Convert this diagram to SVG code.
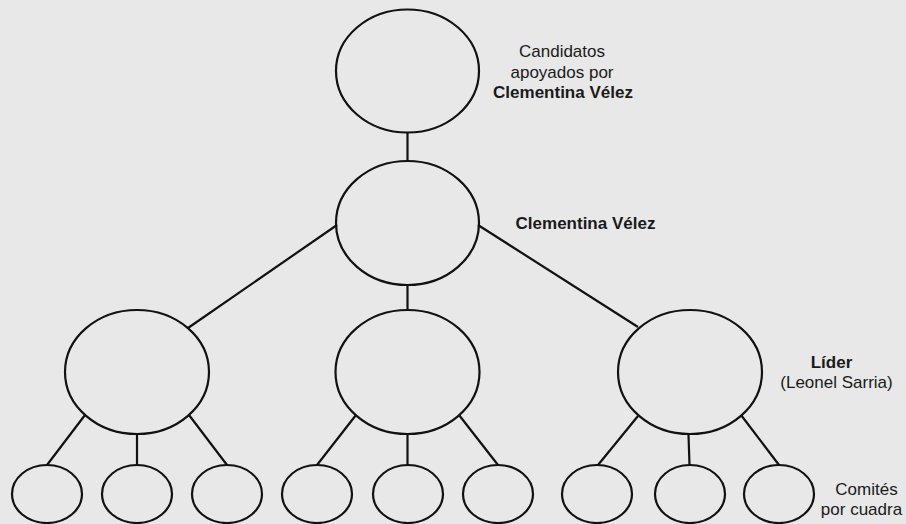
<svg xmlns="http://www.w3.org/2000/svg" width="906" height="524" viewBox="0 0 906 524">
<style>
.n{fill:none;stroke:#111;stroke-width:2.2}
.c line{stroke:#111;stroke-width:2.2}
text{font-family:"Liberation Sans",Arial,sans-serif;font-size:17px;fill:#1a1a1a;text-anchor:middle}
.b{font-weight:bold}
</style>
<rect width="906" height="524" fill="#e8e8e8"/>
<g class="c" id="connectors">
<line x1="407.5" y1="133" x2="407.5" y2="161"/>
<line x1="337" y1="225" x2="188" y2="328"/>
<line x1="407.5" y1="285" x2="407.5" y2="310"/>
<line x1="478" y1="225" x2="638" y2="327"/>
<line x1="85" y1="415" x2="47" y2="465"/>
<line x1="137" y1="434" x2="137" y2="465"/>
<line x1="189" y1="415" x2="227" y2="465"/>
<line x1="356" y1="415" x2="317" y2="465"/>
<line x1="407.5" y1="434" x2="407.5" y2="465"/>
<line x1="459" y1="415" x2="498" y2="465"/>
<line x1="638" y1="416" x2="598" y2="465"/>
<line x1="688.5" y1="435" x2="689.5" y2="465"/>
<line x1="741" y1="415" x2="779" y2="465"/>
</g>
<g id="n-top"><ellipse class="n" cx="407.5" cy="71" rx="71.5" ry="61.5"/></g>
<g id="n-cv"><ellipse class="n" cx="407.5" cy="223" rx="71.5" ry="62"/></g>
<g id="n-l1"><ellipse class="n" cx="137" cy="372" rx="72" ry="62"/></g>
<g id="n-l2"><ellipse class="n" cx="407.5" cy="372" rx="72" ry="62"/></g>
<g id="n-l3"><ellipse class="n" cx="690" cy="372" rx="72" ry="62"/></g>
<g id="n-c1"><ellipse class="n" cx="47" cy="494" rx="35" ry="29"/></g>
<g id="n-c2"><ellipse class="n" cx="137" cy="494" rx="35" ry="29"/></g>
<g id="n-c3"><ellipse class="n" cx="227" cy="494" rx="35" ry="29"/></g>
<g id="n-c4"><ellipse class="n" cx="317" cy="494" rx="35" ry="29"/></g>
<g id="n-c5"><ellipse class="n" cx="408" cy="494" rx="35" ry="29"/></g>
<g id="n-c6"><ellipse class="n" cx="498" cy="494" rx="35" ry="29"/></g>
<g id="n-c7"><ellipse class="n" cx="597" cy="494" rx="35" ry="29"/></g>
<g id="n-c8"><ellipse class="n" cx="690" cy="494" rx="35" ry="29"/></g>
<g id="n-c9"><ellipse class="n" cx="779" cy="494" rx="35" ry="29"/></g>
<g id="labels">
<text x="562" y="57">Candidatos</text>
<text x="562" y="77.5">apoyados por</text>
<text x="563" y="98" class="b">Clementina Vélez</text>
<text x="585.5" y="229" class="b">Clementina Vélez</text>
<text x="831.5" y="368" class="b">Líder</text>
<text x="836.5" y="388">(Leonel Sarria)</text>
<text x="866.5" y="495">Comités</text>
<text x="861.5" y="515">por cuadra</text>
</g>
</svg>
